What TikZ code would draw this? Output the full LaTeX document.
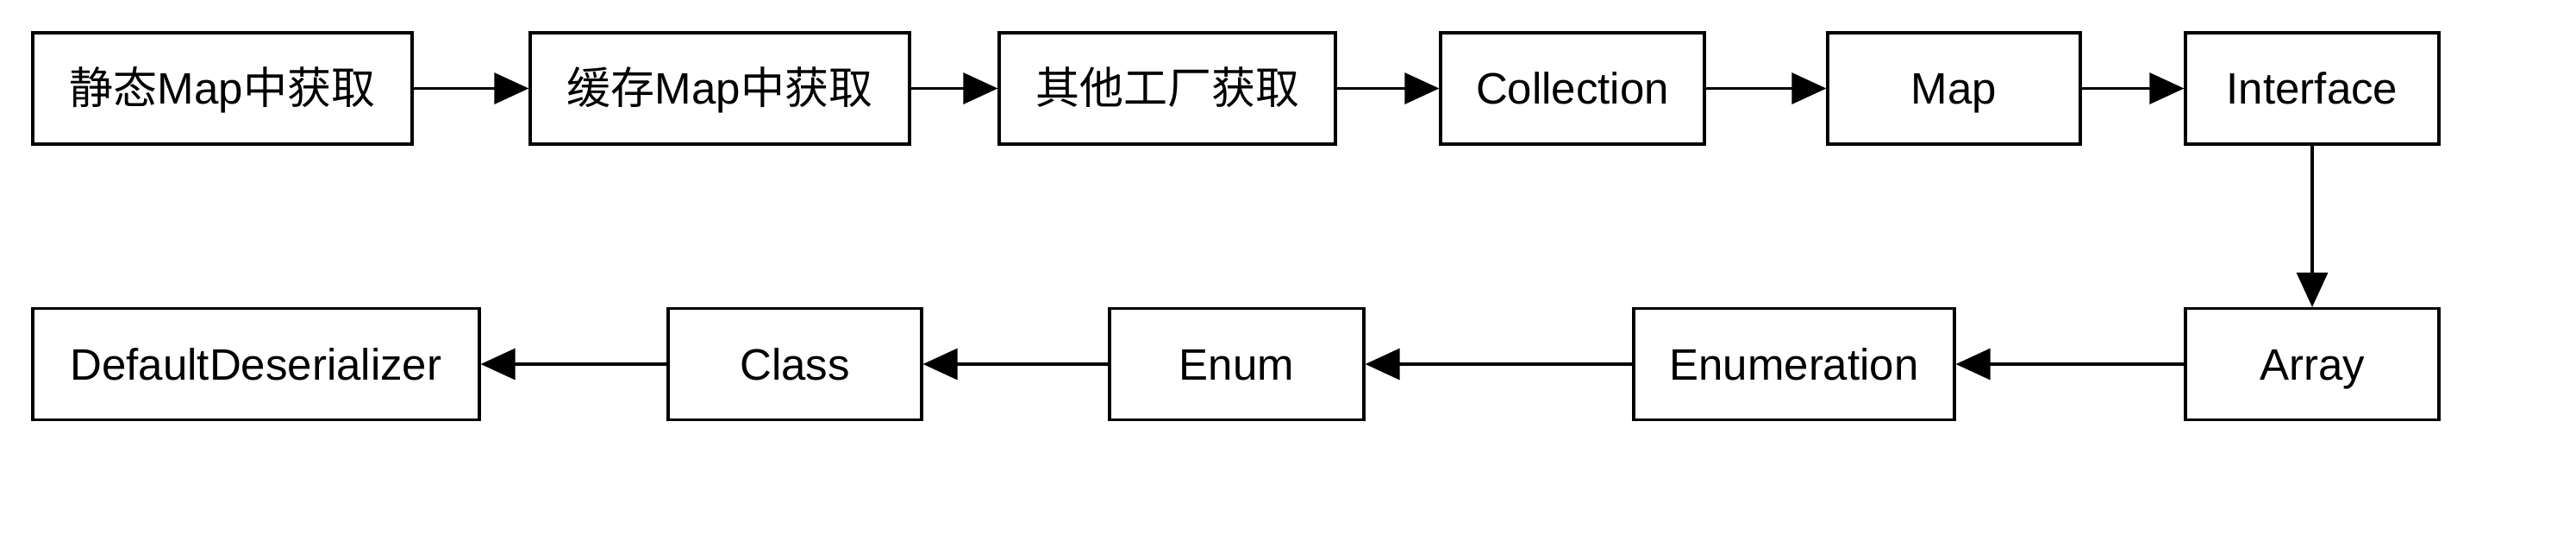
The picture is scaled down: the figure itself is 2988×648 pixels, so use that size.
\documentclass[tikz,border=0pt]{standalone}
\usepackage{fontspec}
\setmainfont{Liberation Sans}
\newfontfamily\cjk{Noto Sans CJK SC}
\usetikzlibrary{arrows.meta}
\begin{document}
\begin{tikzpicture}[x=0.5pt,y=-0.5pt,
  box/.style={draw=black,line width=1.6pt,fill=white,minimum height=64.5pt,inner sep=0pt,text height=18.3pt,text depth=0pt,font=\fontsize{25.5}{30}\selectfont},
  conn/.style={line width=1.6pt,-{Triangle[length=20pt,width=18pt]}}]
\useasboundingbox (0,0) rectangle (2988,648);
\node[box,minimum width=220pt] (b1) at (258,102.5) {{\cjk 静态}Map{\cjk 中获取}};
\node[box,minimum width=220pt] (b2) at (835,102.5) {{\cjk 缓存}Map{\cjk 中获取}};
\node[box,minimum width=195pt] (b3) at (1354,102.5) {{\cjk 其他工厂获取}};
\node[box,minimum width=153pt] (b4) at (1824,102.5) {Collection};
\node[box,minimum width=146.5pt] (b5) at (2266.5,102.5) {Map};
\node[box,minimum width=147pt] (b6) at (2682,102.5) {Interface};
\node[box,minimum width=147pt] (c1) at (2682,422) {Array};
\node[box,minimum width=186pt] (c2) at (2081,422) {Enumeration};
\node[box,minimum width=147.5pt] (c3) at (1434.5,422) {Enum};
\node[box,minimum width=147pt] (c4) at (922,422) {Class};
\node[box,minimum width=259pt] (c5) at (297,422) {DefaultDeserializer};
\draw[conn] (b1) -- (b2);
\draw[conn] (b2) -- (b3);
\draw[conn] (b3) -- (b4);
\draw[conn] (b4) -- (b5);
\draw[conn] (b5) -- (b6);
\draw[conn] (b6) -- (c1);
\draw[conn] (c1) -- (c2);
\draw[conn] (c2) -- (c3);
\draw[conn] (c3) -- (c4);
\draw[conn] (c4) -- (c5);
\end{tikzpicture}
\end{document}
